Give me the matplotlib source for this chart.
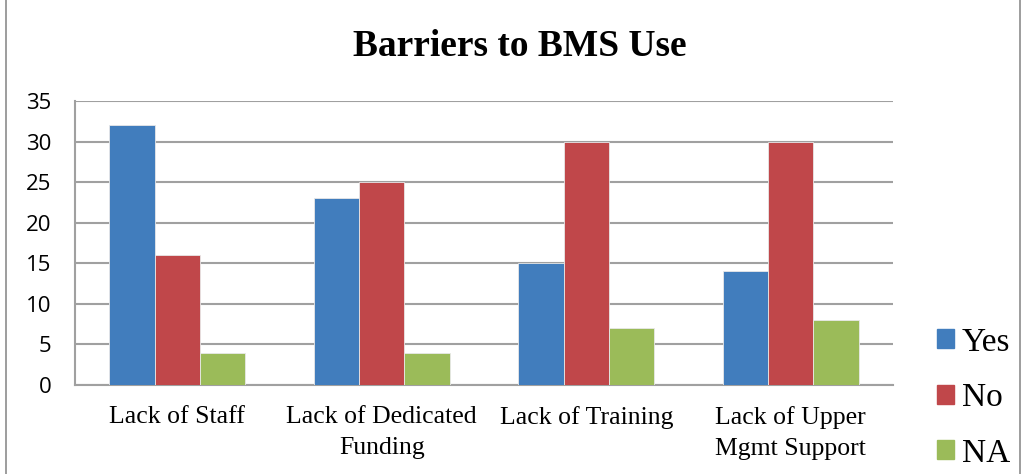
import matplotlib.pyplot as plt
import matplotlib.patches as mpatches
import numpy as np

categories = ["Lack of Staff", "Lack of Dedicated\nFunding", "Lack of Training", "Lack of Upper\nMgmt Support"]
yes = [32, 23, 15, 14]
no = [16, 25, 30, 30]
na = [4, 4, 7, 8]
series_names = ["Yes", "No", "NA"]
colors = ["#417DBD", "#C0474A", "#9BBB59"]

fig = plt.figure(figsize=(10.25, 4.74), dpi=100)
# outer chart border
fig.patches.append(mpatches.Rectangle((6 / 1025, -0.01), 1014 / 1025, 1.02, transform=fig.transFigure,
                                      fill=False, edgecolor="#8c8c8c", linewidth=1.2))

ax = fig.add_axes([75 / 1025, 89 / 474, 818 / 1025, 284 / 474])
x = np.arange(len(categories))
w = 0.222
for i, (vals, name) in enumerate(zip([yes, no, na], series_names)):
    ax.bar(x + (i - 1) * w, vals, width=w, color=colors[i], edgecolor="#e8e8e8",
           linewidth=0.6, label=name, zorder=3)

ax.set_xlim(-0.5, len(categories) - 0.5)
ax.set_ylim(0, 35)
ax.set_yticks(range(0, 36, 5))
ax.yaxis.grid(True, color="#a0a0a0", linewidth=1.5, zorder=0)
ax.set_axisbelow(True)
for s in ["top", "right"]:
    ax.spines[s].set_visible(False)
for s in ["left", "bottom"]:
    ax.spines[s].set_color("#a0a0a0")
    ax.spines[s].set_linewidth(1.5)
ax.tick_params(length=0)
ax.tick_params(axis="y", pad=17, labelsize=16)
for t in ax.get_yticklabels():
    t.set_fontfamily("Open Sans")
ax.set_xticks(x)
ax.set_xticklabels(categories, fontfamily="Liberation Serif", fontsize=18.5, linespacing=1.55)
ax.tick_params(axis="x", pad=15)

fig.text(520 / 1025, 1 - 47 / 474, "Barriers to BMS Use", ha="center", va="center",
         fontfamily="Liberation Serif", fontweight="bold", fontsize=27)

handles = [mpatches.Patch(color=c) for c in colors]
fig.legend(handles, series_names, loc="center left", bbox_to_anchor=(937 / 1025, 1 - 398 / 474),
           frameon=False, borderpad=0, borderaxespad=0,
           prop={"family": "Liberation Serif", "size": 24},
           handlelength=0.5, handleheight=0.5, handletextpad=0.25, labelspacing=0.75)

fig.savefig("out.png", dpi=100)
